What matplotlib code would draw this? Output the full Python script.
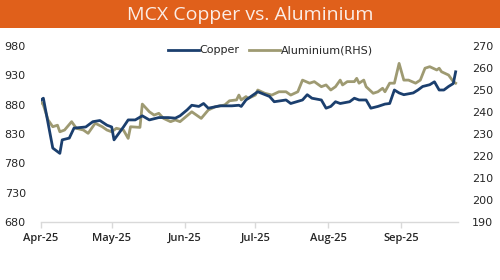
import matplotlib
matplotlib.use("Agg")
import matplotlib.pyplot as plt
import matplotlib.dates as mdates
import pandas as pd

copper_dates = ["04-01","04-02","04-06","04-09","04-10","04-13","04-15","04-20","04-23","04-26",
                "04-29","05-01","05-02","05-04","05-06","05-08","05-11","05-14","05-17","05-21",
                "05-25","05-28","05-30","06-02","06-04","06-07","06-09","06-11","06-16","06-21",
                "06-24","06-25","06-27","07-02","07-07","07-09","07-14","07-16","07-21","07-23",
                "07-25","07-29","07-31","08-02","08-04","08-06","08-10","08-12","08-14","08-17",
                "08-19","08-22","08-25","08-27","08-29","08-31","09-02","09-06","09-08","09-10",
                "09-13","09-15","09-17","09-19","09-21","09-23","09-24"]
copper_values = [888,891,806,797,820,823,840,842,851,853,
                 845,842,820,831,842,854,854,861,854,858,
                 858,857,861,871,879,877,882,874,878,878,
                 879,877,888,902,894,885,888,882,888,897,
                 891,888,874,877,885,882,885,891,888,888,
                 874,877,881,882,905,900,897,900,905,911,
                 914,919,905,905,911,916,936]

alu_dates = ["04-01","04-02","04-04","04-06","04-08","04-09","04-11","04-14","04-16","04-19",
             "04-21","04-24","04-27","04-29","05-01","05-03","05-06","05-08","05-09","05-13",
             "05-14","05-17","05-19","05-21","05-23","05-26","05-28","05-30","06-04","06-08",
             "06-11","06-14","06-18","06-20","06-23","06-24","06-25","06-27","06-28","07-01",
             "07-02","07-05","07-08","07-11","07-14","07-16","07-19","07-21","07-24","07-26",
             "07-29","07-31","08-02","08-04","08-06","08-07","08-09","08-12","08-13","08-14",
             "08-16","08-17","08-20","08-22","08-24","08-25","08-27","08-29","08-31","09-02",
             "09-04","09-07","09-09","09-11","09-13","09-16","09-17","09-18","09-21","09-23",
             "09-24"]
alu_values = [244.7,243.2,236.4,233.3,234.0,231.0,231.8,235.6,232.6,231.8,
              230.3,234.9,233.3,231.8,231.0,232.6,231.8,228.0,233.3,233.0,
              243.6,240.1,238.6,239.4,237.1,235.6,236.4,235.6,240.1,237.1,
              240.9,242.4,243.2,245.1,245.5,247.7,245.5,247.0,246.2,247.7,
              250.0,248.5,247.7,249.2,249.2,247.7,249.2,254.5,253.1,253.8,
              251.5,252.3,250.0,251.5,254.5,252.3,253.8,253.8,255.3,253.1,
              254.5,251.5,248.5,249.2,250.8,249.2,253.1,253.1,262.1,254.5,
              254.5,253.1,254.5,259.9,260.6,259.1,259.9,258.3,256.8,253.8,
              253.1]

title = "MCX Copper vs. Aluminium"
left_ticks = [680, 730, 780, 830, 880, 930, 980]
right_ticks = [190, 200, 210, 220, 230, 240, 250, 260, 270]

cu_x = pd.to_datetime(["2025-" + d for d in copper_dates])
al_x = pd.to_datetime(["2025-" + d for d in alu_dates])

CU = "#1B3F6E"
AL = "#9E9A72"
TXT = "#262626"

fig = plt.figure(figsize=(5, 2.8), dpi=100)
fig.patch.set_facecolor("white")

# title bar
bar = fig.add_axes([0, 1 - 28 / 280, 1, 28 / 280])
bar.set_facecolor("#E0601B")
bar.set_xticks([]); bar.set_yticks([])
for s in bar.spines.values():
    s.set_visible(False)
bar.text(0.5, 0.47, title, ha="center", va="center", color="#FBEDE6",
         fontsize=14, family="Open Sans", transform=bar.transAxes)

ax = fig.add_axes([41 / 500, 1 - 222 / 280, (458 - 41) / 500, (222 - 46) / 280])
ax2 = ax.twinx()

l1, = ax.plot(cu_x, copper_values, color=CU, lw=2.0, zorder=3, label="Copper")
l2, = ax2.plot(al_x, alu_values, color=AL, lw=2.0, zorder=2, label="Aluminium(RHS)")
ax.set_zorder(ax2.get_zorder() + 1)
ax.patch.set_visible(False)

ax.set_ylim(680, 980)
ax.set_yticks(left_ticks)
ax2.set_ylim(190, 270)
ax2.set_yticks(right_ticks)
ax.set_xlim(pd.Timestamp("2025-04-01"), pd.Timestamp("2025-09-25"))
ax.xaxis.set_major_locator(mdates.MonthLocator())
ax.xaxis.set_major_formatter(mdates.DateFormatter("%b-%y"))

for a in (ax, ax2):
    for s in a.spines.values():
        s.set_visible(False)
ax.spines["bottom"].set_visible(True)
ax.spines["bottom"].set_color("#D9D9D9")
ax.spines["bottom"].set_linewidth(1.0)

ax.tick_params(axis="x", colors="#D9D9D9", length=4, width=1, labelcolor=TXT,
               labelsize=8, pad=4)
ax.tick_params(axis="y", length=0, labelcolor=TXT, labelsize=8, pad=11)
ax2.tick_params(axis="y", length=0, labelcolor=TXT, labelsize=8, pad=10)
for lab in ax.get_xticklabels():
    lab.set_fontweight("semibold")
    lab.set_family("Open Sans")

leg = ax.legend(handles=[l1, l2], loc="upper center", bbox_to_anchor=(0.55, 1.06),
                ncol=2, frameon=False, fontsize=8, handlelength=2.8,
                handletextpad=0.1, columnspacing=0.8)
for t in leg.get_texts():
    t.set_color(TXT)

fig.savefig("out.png", dpi=100, facecolor="white")
